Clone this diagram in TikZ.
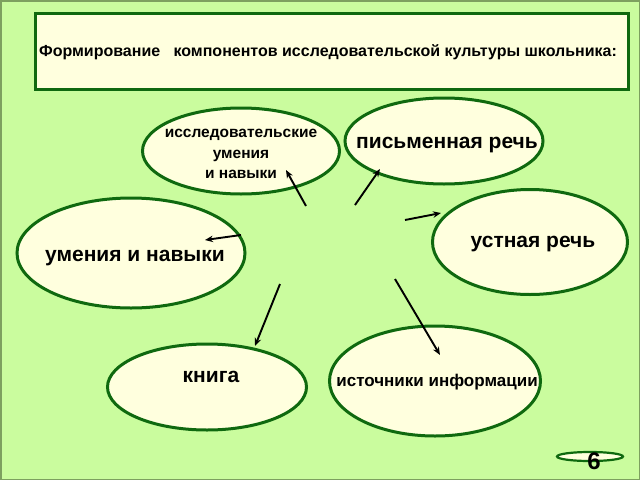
\documentclass[tikz,border=0pt]{standalone}
\usepackage{fontspec}
\setmainfont{Liberation Sans}
\usetikzlibrary{shapes.geometric,arrows.meta}
\definecolor{bggreen}{RGB}{202,252,158}
\definecolor{cream}{RGB}{255,255,222}
\definecolor{dkgreen}{RGB}{15,105,15}
\definecolor{edgegreen}{RGB}{125,160,95}
\tikzset{
  oval/.style={ellipse,draw=dkgreen,fill=cream,line width=3pt,inner sep=0pt},
  lbl/.style={font=\bfseries,text=black,align=center,inner sep=0pt},
  arr/.style={line width=1.9pt,-{Stealth[length=8pt,width=6.5pt]}},
}
\begin{document}
\begin{tikzpicture}[x=1pt,y=-1pt]
\useasboundingbox (0,0) rectangle (640,480);
\fill[bggreen] (0,0) rectangle (640,480);
\draw[edgegreen,line width=1.5pt] (0.75,0.75) rectangle (639.25,479.25);
% title
\node[draw=dkgreen,fill=cream,line width=3pt,minimum width=593pt,minimum height=76pt,inner sep=0pt] (title) at (331.5,51) {};
\node[lbl,font=\bfseries\fontsize{16}{19}\selectfont] (titletext) at (328,52) {Формирование\ \ \ компонентов исследовательской культуры школьника:};
% ellipses
\node[oval,minimum width=197pt,minimum height=86pt] (e1) at (241,151) {};
\node[oval,minimum width=198pt,minimum height=86pt] (e2) at (444,141) {};
\node[oval,minimum width=195pt,minimum height=105pt] (e3) at (530,242) {};
\node[oval,minimum width=228pt,minimum height=110pt] (e4) at (131,253) {};
\node[oval,minimum width=199pt,minimum height=86pt] (e5) at (207,387) {};
\node[oval,minimum width=211pt,minimum height=110pt] (e6) at (435,381) {};
\node[ellipse,draw=dkgreen,fill=cream,line width=2.2pt,minimum width=66pt,minimum height=9pt,inner sep=0pt] (e7) at (590,456.5) {};
% labels
\node[lbl,font=\bfseries\fontsize{15.5}{20.5}\selectfont] (t1) at (241,154) {исследовательские\\умения\\и навыки};
\node[lbl,font=\bfseries\fontsize{21}{24}\selectfont] (t2) at (447,145) {письменная речь};
\node[lbl,font=\bfseries\fontsize{21}{24}\selectfont] (t3) at (533,244) {устная речь};
\node[lbl,font=\bfseries\fontsize{21}{24}\selectfont] (t4) at (135,258) {умения и навыки};
\node[lbl,font=\bfseries\fontsize{21}{24}\selectfont] (t5) at (211,377) {книга};
\node[lbl,font=\bfseries\fontsize{17}{20}\selectfont] (t6) at (437,382) {источники информации};
\node[lbl,font=\bfseries\fontsize{24}{28}\selectfont] (t7) at (594,461) {6};
% arrows
\coordinate (a1) at (306,206); \coordinate (b1) at (286,170);
\coordinate (a2) at (355,205); \coordinate (b2) at (380,169);
\coordinate (a3) at (405,220); \coordinate (b3) at (441,213);
\coordinate (a4) at (241,235); \coordinate (b4) at (205,240);
\coordinate (a5) at (280,284); \coordinate (b5) at (255,346);
\coordinate (a6) at (395,279); \coordinate (b6) at (440,355);
\draw[arr] (a1) -- (b1);
\draw[arr] (a2) -- (b2);
\draw[arr] (a3) -- (b3);
\draw[arr] (a4) -- (b4);
\draw[arr] (a5) -- (b5);
\draw[arr] (a6) -- (b6);
\end{tikzpicture}
\end{document}
